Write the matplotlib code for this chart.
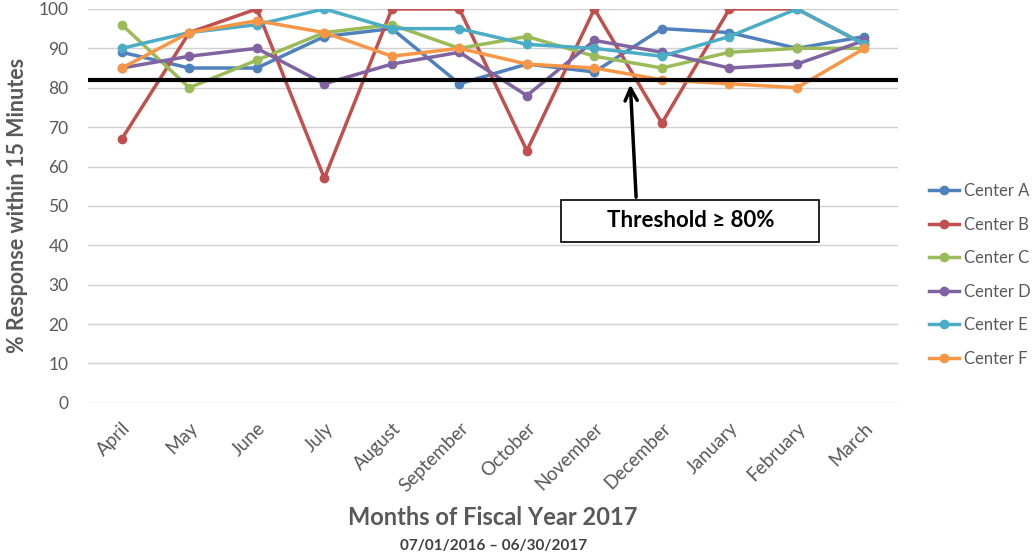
import matplotlib.pyplot as plt
from matplotlib.patches import Rectangle

plt.rcParams['font.family'] = ['Lato', 'DejaVu Sans']

months = ['April', 'May', 'June', 'July', 'August', 'September', 'October',
          'November', 'December', 'January', 'February', 'March']
center_a = [89, 85, 85, 93, 95, 81, 86, 84, 95, 94, 90, 93]
center_b = [67, 94, 100, 57, 100, 100, 64, 100, 71, 100, 100, 91]
center_c = [96, 80, 87, 94, 96, 90, 93, 88, 85, 89, 90, 90]
center_d = [85, 88, 90, 81, 86, 89, 78, 92, 89, 85, 86, 92]
center_e = [90, 94, 96, 100, 95, 95, 91, 90, 88, 93, 100, 91]
center_f = [85, 94, 97, 94, 88, 90, 86, 85, 82, 81, 80, 90]
threshold = 82

series = [('Center A', center_a, '#4F81BD'),
          ('Center B', center_b, '#C0504D'),
          ('Center C', center_c, '#9BBB59'),
          ('Center D', center_d, '#8064A2'),
          ('Center E', center_e, '#4BACC6'),
          ('Center F', center_f, '#F79646')]

gray = '#595959'

fig = plt.figure(figsize=(10.36, 5.58), dpi=100)
ax = fig.add_axes([0.085, 0.278, 0.782, 0.706])

x = range(len(months))
for name, vals, col in series:
    ax.plot(x, vals, color=col, lw=2.5, marker='o', ms=6, label=name)

ax.axhline(threshold, color='black', lw=3, zorder=5)

ax.set_xlim(-0.5, 11.5)
ax.set_ylim(0, 100)
ax.set_yticks(range(0, 101, 10))
ax.set_xticks(list(x))
ax.set_xticklabels(months, rotation=45, ha='right', rotation_mode='anchor',
                   fontsize=13.5, color=gray)
ax.tick_params(axis='y', labelsize=12.5, colors=gray, length=0, pad=14)
ax.tick_params(axis='x', length=0, pad=12)
ax.grid(axis='y', color='#d0d0d0', lw=1)
ax.set_axisbelow(True)
for s in ax.spines.values():
    s.set_visible(False)

ax.set_ylabel('% Response within 15 Minutes', fontsize=15.5, fontweight='bold',
              color=gray, labelpad=8)
fig.text(0.476, 0.072, 'Months of Fiscal Year 2017', ha='center', va='center',
         fontsize=17, fontweight='bold', color=gray)
fig.text(0.476, 0.022, '07/01/2016 \u2013 06/30/2017', ha='center', va='center',
         fontsize=11, fontweight='bold', color='#404040')

# annotation box and arrow
ax.add_patch(Rectangle((6.51, 40.9), 3.82, 10.6, facecolor='white',
                       edgecolor='black', lw=1.2, zorder=6))
ax.text(8.42, 46.2, 'Threshold \u2265 80%', ha='center', va='center',
        fontsize=16, fontweight='bold', zorder=7)
ax.annotate('', xy=(7.53, 81.5), xytext=(7.62, 51.5),
            arrowprops=dict(arrowstyle='->', lw=2.5, color='black',
                            mutation_scale=22), zorder=6)

ax.legend(loc='center left', bbox_to_anchor=(1.02, 0.325), frameon=False,
          fontsize=12, labelcolor=gray, handlelength=1.8, labelspacing=1.05,
          handletextpad=0.3)

fig.savefig('out.png', dpi=100)
